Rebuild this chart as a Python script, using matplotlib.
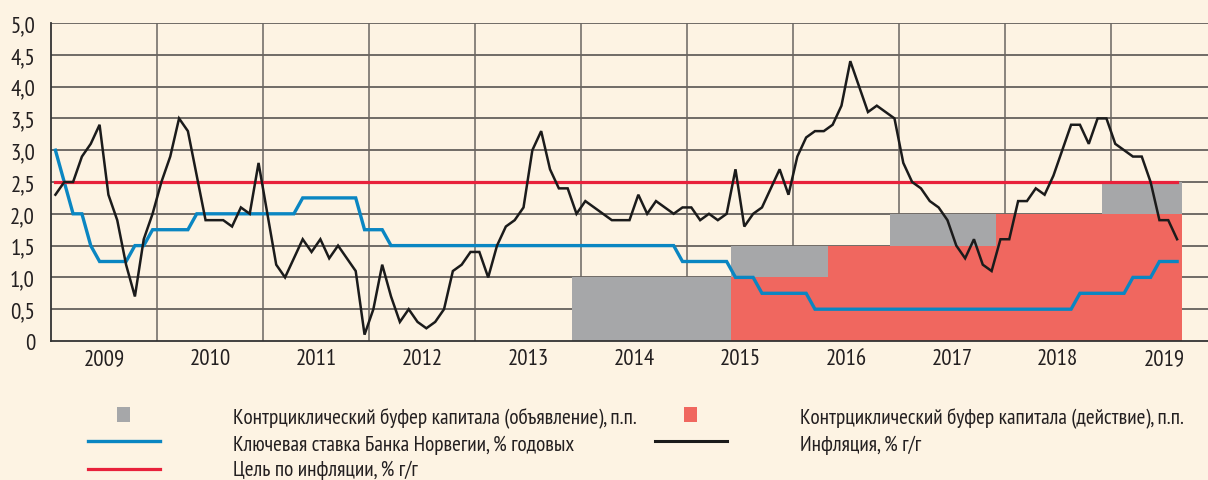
import matplotlib
matplotlib.use("Agg")
import matplotlib.pyplot as plt
from matplotlib.patches import Rectangle
from matplotlib.lines import Line2D
import numpy as np

# ---------------- data ----------------
years = ["2009", "2010", "2011", "2012", "2013", "2014", "2015", "2016", "2017", "2018", "2019"]

# CPI inflation, % y/y, monthly Jan 2009 - Aug 2019
inflation = [
    2.3, 2.5, 2.5, 2.9, 3.1, 3.4, 2.3, 1.9, 1.2, 0.7, 1.6, 2.0,   # 2009
    2.5, 2.9, 3.5, 3.3, 2.6, 1.9, 1.9, 1.9, 1.8, 2.1, 2.0, 2.8,   # 2010
    2.0, 1.2, 1.0, 1.3, 1.6, 1.4, 1.6, 1.3, 1.5, 1.3, 1.1, 0.1,   # 2011
    0.5, 1.2, 0.7, 0.3, 0.5, 0.3, 0.2, 0.3, 0.5, 1.1, 1.2, 1.4,   # 2012
    1.4, 1.0, 1.5, 1.8, 1.9, 2.1, 3.0, 3.3, 2.7, 2.4, 2.4, 2.0,   # 2013
    2.2, 2.1, 2.0, 1.9, 1.9, 1.9, 2.3, 2.0, 2.2, 2.1, 2.0, 2.1,   # 2014
    2.1, 1.9, 2.0, 1.9, 2.0, 2.7, 1.8, 2.0, 2.1, 2.4, 2.7, 2.3,   # 2015
    2.9, 3.2, 3.3, 3.3, 3.4, 3.7, 4.4, 4.0, 3.6, 3.7, 3.6, 3.5,   # 2016
    2.8, 2.5, 2.4, 2.2, 2.1, 1.9, 1.5, 1.3, 1.6, 1.2, 1.1, 1.6,   # 2017
    1.6, 2.2, 2.2, 2.4, 2.3, 2.6, 3.0, 3.4, 3.4, 3.1, 3.5, 3.5,   # 2018
    3.1, 3.0, 2.9, 2.9, 2.5, 1.9, 1.9, 1.6,                       # 2019
]

# Norges Bank key policy rate, % p.a., monthly
key_rate = ([3.0, 2.5, 2.0, 2.0, 1.5] + [1.25] * 4 + [1.5] * 2 + [1.75] * 5 +
            [2.0] * 12 + [2.25] * 7 + [1.75] * 3 + [1.5] * 33 + [1.25] * 6 +
            [1.0] * 3 + [0.75] * 6 + [0.5] * 30 + [0.75] * 6 + [1.0] * 3 + [1.25] * 3)

# Inflation target, % y/y
target = [2.5] * len(inflation)

# Countercyclical capital buffer (month index since Jan 2009 where level starts)
ccb_announce_start = [59, 77, 95, 119]
ccb_announce_level = [1.0, 1.5, 2.0, 2.5]
ccb_active_start = [77, 88, 107]
ccb_active_level = [1.0, 1.5, 2.0]
ccb_end = 128

y_ticks = [0, 0.5, 1.0, 1.5, 2.0, 2.5, 3.0, 3.5, 4.0, 4.5, 5.0]
y_labels = ["0", "0,5", "1,0", "1,5", "2,0", "2,5", "3,0", "3,5", "4,0", "4,5", "5,0"]

legend_labels = [
    "Контрциклический буфер капитала (объявление), п.п.",
    "Контрциклический буфер капитала (действие), п.п.",
    "Ключевая ставка Банка Норвегии, % годовых",
    "Инфляция, % г/г",
    "Цель по инфляции, % г/г",
]

# ---------------- style ----------------
BG = "#FDF3E3"
GREY = "#A6A7A9"
RED_FILL = "#F0675F"
BLUE = "#0A86C2"
RED_LINE = "#E8213B"
BLACK = "#1B1B1B"
TXT = "#231F20"
GRID = "#4A4644"
FONT = ["PT Sans Narrow", "Roboto Condensed", "DejaVu Sans"]
FS = 16.5
FS_LEG = 15.4

plt.rcParams["font.family"] = FONT

W, H = 1208, 481
fig = plt.figure(figsize=(W / 100, H / 100), dpi=100, facecolor=BG)

ax = fig.add_axes([51 / W, (H - 342) / H, 1 - 51 / W, (342 - 24) / H])
ax.set_facecolor(BG)
ax.set_xlim(0, 131)
ax.set_ylim(0, 5)

# grid
for v in y_ticks[1:]:
    ax.axhline(v, color=GRID, lw=1.1, zorder=1)
for k in range(1, len(years)):
    ax.axvline(12 * k, color="#6A6561", lw=1.1, zorder=1)

# buffers
def step_fill(starts, levels, color):
    edges = list(starts) + [ccb_end]
    vals = list(levels) + [levels[-1]]
    ax.fill_between(edges, 0, vals, step="post", color=color, lw=0, zorder=2)

step_fill(ccb_announce_start, ccb_announce_level, GREY)
step_fill(ccb_active_start, ccb_active_level, RED_FILL)

months = np.arange(len(inflation)) + 0.5
ax.plot(months, key_rate, color=BLUE, lw=2.4, zorder=3, solid_joinstyle="miter")
ax.plot(np.arange(len(target)) + 0.5, target, color=RED_LINE, lw=2.3, zorder=4)
ax.plot(months, inflation, color=BLACK, lw=1.8, zorder=5, solid_joinstyle="miter")

# axes
for s in ["top", "right"]:
    ax.spines[s].set_visible(False)
for s in ["left", "bottom"]:
    ax.spines[s].set_color("#333333")
    ax.spines[s].set_linewidth(1.3)
    ax.spines[s].set_zorder(6)

ax.set_yticks(y_ticks)
ax.set_yticklabels(y_labels)
ax.set_xticks([12 * k + 6 for k in range(len(years))])
ax.set_xticklabels(years)
ax.tick_params(axis="both", length=0, labelsize=FS, labelcolor=TXT)
ax.tick_params(axis="y", pad=11.5)
ax.tick_params(axis="x", pad=5)

# ---------------- legend (figure pixel space) ----------------
lg = fig.add_axes([0, 0, 1, 1], zorder=-1)
lg.set_xlim(0, W)
lg.set_ylim(H, 0)
lg.axis("off")

lg.add_patch(Rectangle((117, 408), 13, 15, color=GREY, lw=0))
lg.add_patch(Rectangle((684, 408), 13, 15, color=RED_FILL, lw=0))
lg.add_line(Line2D([88, 160], [442, 442], color=BLUE, lw=2.4))
lg.add_line(Line2D([655, 727], [442, 442], color=BLACK, lw=2.2))
lg.add_line(Line2D([88, 160], [470, 470], color=RED_LINE, lw=2.3))

kw = dict(fontsize=FS_LEG, color=TXT, va="baseline", ha="left")
lg.text(233, 424, legend_labels[0], **kw)
lg.text(800, 424, legend_labels[1], **kw)
lg.text(233, 451, legend_labels[2], **kw)
lg.text(800, 451, legend_labels[3], **kw)
lg.text(233, 476, legend_labels[4], **kw)

fig.savefig("out.png", dpi=100, facecolor=BG)
